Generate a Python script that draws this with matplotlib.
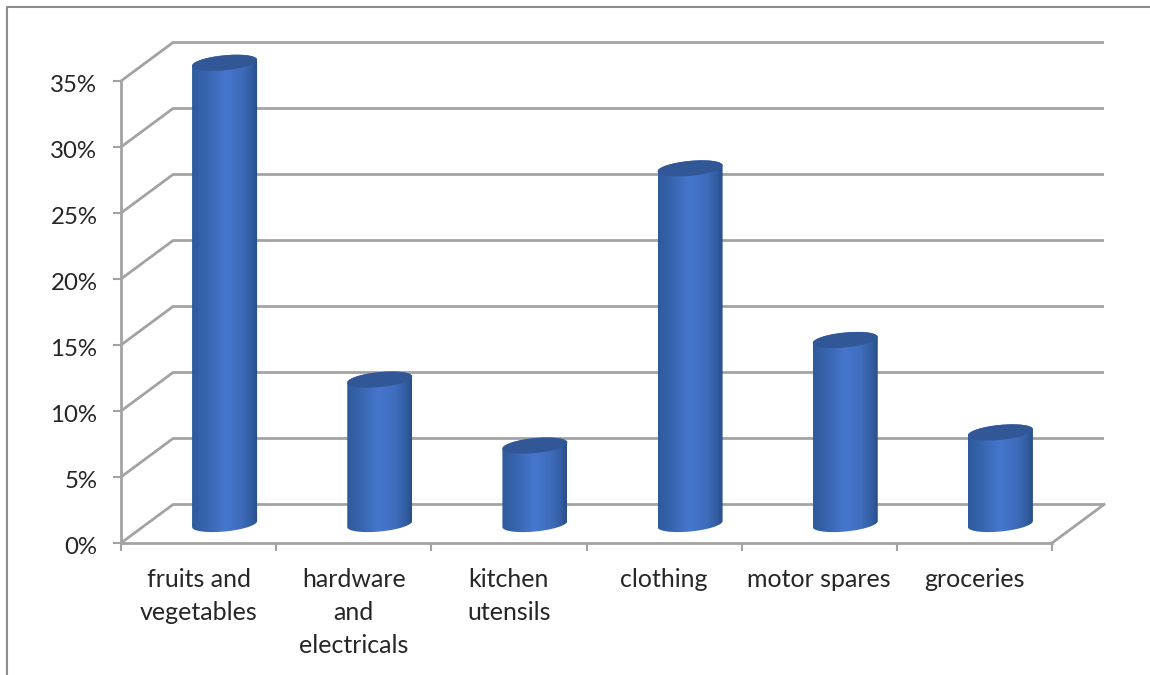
import numpy as np
import matplotlib
matplotlib.use("Agg")
from matplotlib import pyplot as plt
from matplotlib.colors import LinearSegmentedColormap
from matplotlib.lines import Line2D
from matplotlib.patches import Polygon
from matplotlib.transforms import ScaledTranslation

categories = ["fruits and\nvegetables", "hardware\nand\nelectricals", "kitchen\nutensils",
              "clothing", "motor spares", "groceries"]
values = [35, 11, 6, 27, 14, 7]
yticks = [0, 5, 10, 15, 20, 25, 30, 35]
ylabels = ["0%", "5%", "10%", "15%", "20%", "25%", "30%", "35%"]

W, H = 1150, 675
plt.rcParams["font.family"] = ["Lato", "DejaVu Sans"]
GRID = "#a3a3a3"
TEXT = "#262626"

fig = plt.figure(figsize=(W / 100, H / 100), dpi=100)
# plot box of the front plane, in pixels
left, right, bottom, top = 121, 1052, 543, 81
ax = fig.add_axes([left / W, 1 - bottom / H, (right - left) / W, (bottom - top) / H])
ax.set_xlim(0, len(categories))
ax.set_ylim(0, 35)

# depth of the fake 3d box, in data units
depth_x = 52 / ((right - left) / len(categories))
depth_y = 38.5 / ((bottom - top) / 35)

# back wall and side wall grid lines
for y in yticks:
    ax.plot([0, depth_x, len(categories) + depth_x], [y, y + depth_y, y + depth_y],
            color=GRID, lw=2, clip_on=False, zorder=1, solid_capstyle="butt")
# right edge of the floor
ax.plot([len(categories), len(categories) + depth_x], [0, depth_y],
        color=GRID, lw=2, clip_on=False, zorder=1)

for s in ["top", "right"]:
    ax.spines[s].set_visible(False)
for s in ["left", "bottom"]:
    ax.spines[s].set_color(GRID)
    ax.spines[s].set_linewidth(2)
    ax.spines[s].set_zorder(1.5)

ax.set_yticks(yticks)
ax.set_yticklabels(ylabels, fontsize=17.3, color=TEXT)
ax.set_xticks(np.arange(len(categories) + 1))
ax.set_xticklabels([])
ax.set_xticks(np.arange(len(categories)) + 0.5, labels=categories, minor=True)
ax.tick_params(axis="y", length=6, width=1.5, color=GRID, pad=11)
ax.tick_params(axis="x", which="major", length=6, width=1.5, color=GRID)
ax.tick_params(axis="x", which="minor", length=0, pad=17.7, labelsize=18, labelcolor=TEXT)
for t in ax.get_xminorticklabels():
    t.set_linespacing(1.53)
    t.set_verticalalignment("top")
# percent labels sit slightly under their ticks
nudge = ScaledTranslation(0, -2.2 / 100, fig.dpi_scale_trans)
for t in ax.get_yticklabels():
    t.set_transform(t.get_transform() + nudge)

# cylinder shading, dark at the edges and light in the middle
shade = LinearSegmentedColormap.from_list("cyl", [
    (0.0, "#2e5a9c"), (0.2, "#3764ae"), (0.5, "#4677ce"),
    (0.75, "#3f6cbb"), (0.92, "#315c9f"), (1.0, "#2a4d85")])
grad = np.linspace(0, 1, 256).reshape(1, -1)

half_w = 32.5 / ((right - left) / len(categories))
semi_h = 7.5 / ((bottom - top) / 35)
tilt = 3 / ((bottom - top) / 35)
base = depth_y / 2 - 0.02


def rim(cx, y, a, b):
    # tilted ellipse around (cx, y), swept from angle a to b
    th = np.linspace(a, b, 60)
    return cx + half_w * np.cos(th), y + semi_h * np.sin(th) + tilt * np.cos(th)


for i, v in enumerate(values):
    cx = i + 0.5 + depth_x / 2
    top_y = v + depth_y / 2 - 0.08
    x1, y1 = rim(cx, base, np.pi, 2 * np.pi)
    x2, y2 = rim(cx, top_y, 0, np.pi)
    verts = np.column_stack([np.r_[x1, x2], np.r_[y1, y2]])
    body = Polygon(verts, closed=True, transform=ax.transData, fc="none", ec="none")
    ax.add_patch(body)
    body.set_clip_on(False)
    im = ax.imshow(grad, cmap=shade, aspect="auto", zorder=3, interpolation="bilinear",
                   extent=[cx - half_w, cx + half_w, -5, 40])
    im.set_clip_path(body)
    im.set_clip_box(fig.bbox)
    x3, y3 = rim(cx, top_y, 0, 2 * np.pi)
    cap = Polygon(np.column_stack([x3, y3]), closed=True, fc="#315797", ec="none",
                  zorder=4, clip_on=False)
    ax.add_patch(cap)

ax.set_xlim(0, len(categories))
ax.set_ylim(0, 35)
ax.patch.set_visible(False)

# outer chart border, open on the right and bottom
fig.add_artist(Line2D([7 / W, 7 / W, 1], [0, 1 - 7 / H, 1 - 7 / H],
                      transform=fig.transFigure, color="#8c8c8c", lw=1.5))

plt.savefig("out.png", dpi=100, facecolor="white")
